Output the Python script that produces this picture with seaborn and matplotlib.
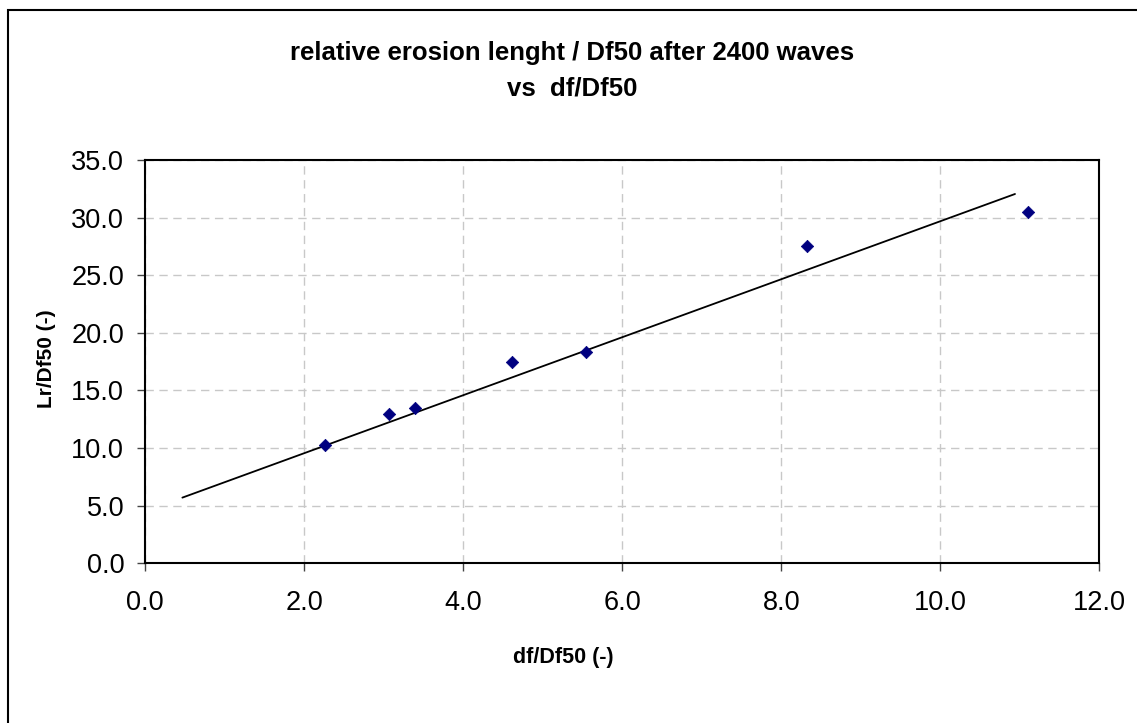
import matplotlib
matplotlib.use("Agg")
import matplotlib.pyplot as plt
import seaborn as sns
import pandas as pd
from matplotlib.patches import Rectangle

# Data
df_ratio = [2.26, 3.07, 3.39, 4.61, 5.55, 8.33, 11.10]
lr_ratio = [10.3, 13.0, 13.5, 17.5, 18.3, 27.5, 30.5]
line_x = [0.47, 10.94]
line_y = [5.7, 32.05]
x_ticks = [0, 2, 4, 6, 8, 10, 12]
y_ticks = [0, 5, 10, 15, 20, 25, 30, 35]

sns.set_style("white")
plt.rcParams['font.family'] = ['Liberation Sans', 'DejaVu Sans']
plt.rcParams['text.color'] = 'black'
plt.rcParams['axes.labelcolor'] = 'black'
plt.rcParams['xtick.color'] = 'black'
plt.rcParams['ytick.color'] = 'black'

W, H = 1137, 723
fig = plt.figure(figsize=(W / 100, H / 100), dpi=100)
ax_l, ax_r, ax_t, ax_b = 145, 1099.3, 160, 563.3
ax = fig.add_axes([ax_l / W, 1 - ax_b / H, (ax_r - ax_l) / W, (ax_b - ax_t) / H])

# outer chart border
fig.patches.append(Rectangle((8 / W, -0.05), 1.1, 1 - 10 / H + 0.05,
                             transform=fig.transFigure, fill=False,
                             edgecolor='black', linewidth=1.5))

points = pd.DataFrame({"x": df_ratio, "y": lr_ratio})
line = pd.DataFrame({"x": line_x, "y": line_y})

sns.lineplot(data=line, x="x", y="y", ax=ax, color="black", linewidth=1.3)
sns.scatterplot(data=points, x="x", y="y", ax=ax, marker="D", s=40,
                color="#000080", edgecolor="#000080", zorder=3)

ax.set_xlim(0, 12)
ax.set_ylim(0, 35)
ax.set_xticks(x_ticks)
ax.set_yticks(y_ticks)
ax.set_xticklabels([f"{v:.1f}" for v in x_ticks], fontsize=19.5)
ax.set_yticklabels([f"{v:.1f}" for v in y_ticks], fontsize=19.5)
ax.tick_params(axis='both', direction='out', length=6, width=1, color='#444444',
               bottom=True, left=True)
ax.tick_params(axis='x', pad=13)
ax.tick_params(axis='y', pad=9)

ax.grid(True, linestyle=(0, (6, 4)), color='#c8c8c8', linewidth=1)
ax.set_axisbelow(True)
for s in ax.spines.values():
    s.set_visible(True)
    s.set_color('black')
    s.set_linewidth(1.5)

ax.set_xlabel("df/Df50 (-)", fontsize=15.5, fontweight='bold')
ax.set_ylabel("Lr/Df50 (-)", fontsize=15, fontweight='bold')
ax.xaxis.set_label_coords((563 - ax_l) / (ax_r - ax_l), -(658 - ax_b) / (ax_b - ax_t))
ax.xaxis.label.set_va('center')
ax.yaxis.set_label_coords(-(ax_l - 47) / (ax_r - ax_l), (ax_b - 359) / (ax_b - ax_t))
ax.yaxis.label.set_va('center')

fig.text(572 / W, 1 - 53 / H, "relative erosion lenght / Df50 after 2400 waves",
         ha='center', va='center', fontsize=18.5, fontweight='bold')
fig.text(572 / W, 1 - 89 / H, "vs  df/Df50",
         ha='center', va='center', fontsize=18.5, fontweight='bold')

fig.savefig("out.png", dpi=100, facecolor='white')
